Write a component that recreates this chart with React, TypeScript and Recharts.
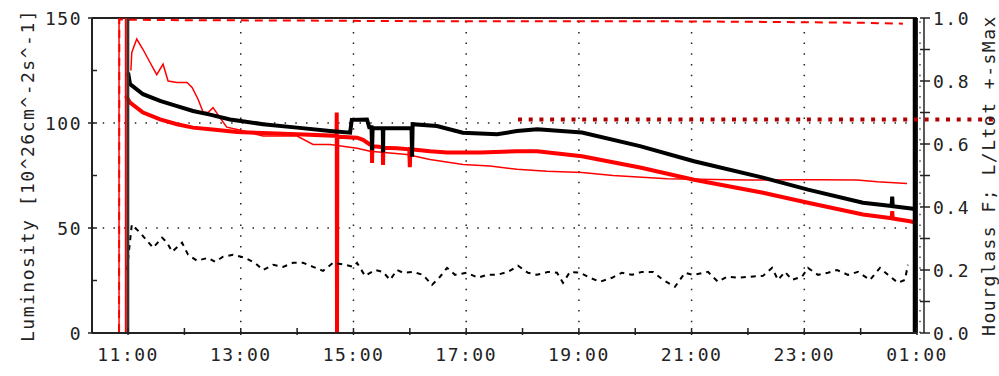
import React from 'react';
import { LineChart, Line, XAxis, YAxis, ReferenceLine } from 'recharts';

const CHART_W = 999;
const CHART_H = 376;
const FONT = '"DejaVu Sans Mono", monospace';
const INK = '#222';

// time in decimal hours, 25 = 01:00 next day
const hourTicks = [11, 12, 13, 14, 15, 16, 17, 18, 19, 20, 21, 22, 23, 24, 25];
const lumTicks = [0, 25, 50, 75, 100, 125, 150];
const fracTicks = [0, 0.1, 0.2, 0.3, 0.4, 0.5, 0.6, 0.7, 0.8, 0.9, 1.0];
const gridHours = [13, 15, 17, 19, 21, 23];
const gridLum = [50, 100];

// vertical markers (beam events)
const redMarkers = [10.84, 10.96];
const blackMarkers = [11.0, 24.96];

// total luminosity (black, thick)
const blackTime = [11.0, 11.035, 11.266, 11.568, 11.869, 12.153, 12.455, 12.81, 13.0, 13.395, 13.999, 14.584, 14.94, 14.97, 15.24, 15.28, 15.32, 15.33, 15.34, 15.52, 15.525, 15.53, 16.03, 16.04, 16.05, 16.48, 16.94, 17.55, 17.9, 18.26, 19.055, 20.084, 21.043, 22.267, 23.065, 24.041, 24.55, 24.56, 24.57, 24.93, 24.95];
const blackLum = [124, 118.5, 113.7, 110.5, 108, 105.7, 104, 101.7, 101, 99.4, 97.8, 96.2, 95.4, 101.5, 101.7, 98, 98, 87, 97.5, 97.5, 86, 97.5, 97.5, 84, 99.4, 98.6, 95.4, 94.6, 96.2, 97, 95.5, 89, 81.8, 74, 68.3, 62, 60.5, 65, 60.4, 59.2, 59];

// luminosity experiment A (red, thick)
const redTime = [10.96, 11.035, 11.266, 11.568, 11.869, 12.153, 12.455, 12.934, 13.395, 13.999, 14.7, 14.703, 14.708, 14.713, 15.063, 15.17, 15.29, 15.325, 15.33, 15.335, 15.52, 15.525, 15.53, 15.77, 15.99, 16.0, 16.01, 16.36, 16.66, 17.25, 17.9, 18.26, 19.055, 20.084, 21.043, 22.267, 23.065, 24.041, 24.55, 24.56, 24.57, 24.875, 24.99];
const redLum = [113, 109.7, 105, 101.7, 99.4, 97.8, 97, 95.7, 95.2, 94.6, 93.9, 105, 0, 93.5, 93, 92, 89.8, 89.8, 81, 89, 88.5, 80, 88.2, 88, 87.5, 79, 87.5, 86.5, 86, 86, 86.5, 86.6, 84.2, 78.8, 73, 66.8, 62, 56.4, 54.6, 58, 54.5, 53.2, 52.5];

// luminosity experiment B (red, thin)
const thinTime = [11.05, 11.066, 11.154, 11.266, 11.39, 11.509, 11.621, 11.71, 11.869, 12.047, 12.136, 12.242, 12.331, 12.419, 12.508, 12.579, 12.632, 12.75, 13.0, 13.395, 13.999, 14.283, 14.584, 15.063, 15.294, 15.95, 16.358, 16.944, 17.423, 17.9, 18.434, 19.055, 19.605, 20.563, 21.983, 22.799, 23.278, 23.935, 24.3, 24.822];
const thinLum = [125, 133.6, 140, 135, 128.8, 123, 128, 120, 119.3, 119.3, 116.9, 111.3, 105.2, 105, 107.3, 104.6, 102.5, 98, 96.5, 93.8, 93.8, 89.8, 89.8, 88, 86.6, 85, 82.6, 80.2, 79.5, 78, 77, 76.4, 75, 73.5, 72.8, 73, 73, 72.8, 72, 71.2];

// spread (black, dashed)
const sMaxTime = [10.98, 11.066, 11.213, 11.444, 11.603, 11.692, 11.781, 11.958, 12.065, 12.224, 12.419, 12.544, 12.686, 12.863, 13.076, 13.253, 13.395, 13.573, 13.75, 13.928, 14.105, 14.283, 14.46, 14.637, 14.85, 14.992, 15.063, 15.205, 15.383, 15.524, 15.649, 15.773, 15.879, 16.057, 16.234, 16.394, 16.536, 16.66, 16.802, 17.015, 17.21, 17.37, 17.547, 17.742, 17.92, 18.097, 18.257, 18.452, 18.612, 18.718, 18.842, 19.02, 19.197, 19.375, 19.588, 19.765, 19.942, 20.12, 20.315, 20.493, 20.705, 20.883, 21.025, 21.291, 21.469, 21.628, 21.823, 22.036, 22.267, 22.427, 22.533, 22.657, 22.781, 22.959, 23.065, 23.243, 23.42, 23.58, 23.775, 23.953, 24.166, 24.343, 24.485, 24.662, 24.786, 24.839];
const sMaxLum = [30, 51.6, 47.8, 40.6, 45.4, 43, 38.7, 43, 37.3, 34.4, 35.8, 33.9, 36.3, 37.3, 35.8, 33.4, 30, 32.5, 31.5, 33.4, 33.4, 31.5, 29.6, 33.4, 32.5, 31.5, 33.4, 27.2, 30, 29.1, 25.3, 30, 28.7, 29.1, 27.7, 22.9, 26.8, 31, 27.7, 28.7, 26.3, 27.7, 27.7, 29.1, 32, 28.7, 27.7, 29.1, 28.7, 23.9, 29.1, 28.7, 26.3, 24.4, 26.3, 28.7, 27.7, 29.1, 29.1, 25.3, 22, 28.7, 27.7, 29.1, 24.4, 26.8, 26.3, 26.8, 27.2, 31, 25.3, 29.1, 25.3, 26.8, 31, 27.7, 28.7, 30, 27.7, 29.1, 25.3, 31, 27.7, 23.9, 25.3, 32.5];

// hourglass factor (red, dashed, right axis)
const hgTime = [10.36, 10.84, 10.845, 12, 14, 16, 18, 20, 22, 24, 24.75];
const hgFrac = [0, 0, 0.995, 0.993, 0.992, 0.99, 0.99, 0.99, 0.988, 0.985, 0.982];

// L/Ltot level (dark red, dotted, right axis)
const ltotStart = 17.92;
const ltotLevel = 0.678;

const zip = (t: number[], v: number[]) => t.map((x, i) => ({ t: x, v: v[i] }));

const fmtHour = (h: number) => `${String(h % 24).padStart(2, '0')}:00`;

const textStyle = { fontFamily: FONT, fontSize: 18, letterSpacing: 1.5, fill: INK };

const HourTick = ({ x, y, payload }: any) => {
  const h = payload.value;
  return (
    <g>
      <line x1={x} x2={x} y1={y - 5} y2={y + 2} stroke={INK} strokeWidth={1.5} />
      {h % 2 === 1 && (
        <text x={x} y={y + 28} textAnchor="middle" {...textStyle}>{fmtHour(h)}</text>
      )}
    </g>
  );
};

const LumTick = ({ x, y, payload }: any) => {
  const v = payload.value;
  const major = v % 50 === 0;
  return (
    <g>
      <line x1={major ? x - 4 : x} x2={x + 5} y1={y} y2={y} stroke={INK} strokeWidth={1.5} />
      {major && (
        <text x={x - 10} y={y + 6.5} textAnchor="end" {...textStyle}>{v}</text>
      )}
    </g>
  );
};

const FracTick = ({ x, y, payload }: any) => {
  const v = payload.value;
  const ax = x + 7;
  const labelled = Math.round(v * 10) % 2 === 0;
  return (
    <g>
      <line x1={ax - 4} x2={ax + 6} y1={y} y2={y} stroke={INK} strokeWidth={1.5} />
      {labelled && (
        <text x={ax + 9} y={y + 6.5} textAnchor="start" {...textStyle}>{v.toFixed(1)}</text>
      )}
    </g>
  );
};

const RightFrame = (p: any) => (
  <g>
    <line x1={p.x1} x2={p.x2} y1={p.y1} y2={p.y2} stroke={INK} strokeWidth={2} />
    <line x1={p.x1 + 7} x2={p.x2 + 7} y1={p.y1} y2={p.y2} stroke={INK} strokeWidth={1.5} />
    <line x1={p.x1 + 3} x2={p.x2 + 3} y1={p.y1} y2={p.y2} stroke={INK} strokeWidth={1.2} strokeDasharray="1.5 9.2" />
  </g>
);

const LtotShape = (p: any) => (
  <line x1={p.x1} y1={p.y1} x2={CHART_W} y2={p.y2} stroke="#b00000" strokeWidth={4} strokeDasharray="4 6.7" />
);

const axisTitle = (text: string, dx: number) => (props: any) => {
  const vb = props.viewBox;
  const cx = vb.x + dx;
  const cy = vb.y + vb.height / 2;
  return (
    <text x={cx} y={cy} transform={`rotate(-90 ${cx} ${cy})`} textAnchor="middle" dominantBaseline="central" {...textStyle}>
      {text}
    </text>
  );
};

export default function App() {
  return (
    <div style={{ position: 'absolute', left: 0, top: 0, background: '#fff' }}>
      <LineChart width={CHART_W} height={CHART_H} margin={{ top: 18, right: 0, bottom: 0, left: 0 }}>
        <XAxis
          type="number"
          dataKey="t"
          domain={[10.36, 25]}
          ticks={hourTicks}
          interval={0}
          tickSize={0}
          tickMargin={0}
          tickLine={false}
          tick={<HourTick />}
          axisLine={{ stroke: INK, strokeWidth: 2 }}
          height={43}
          allowDecimals
        />
        <YAxis
          yAxisId="lum"
          domain={[0, 150]}
          ticks={lumTicks}
          interval={0}
          tickSize={0}
          tickMargin={0}
          tickLine={false}
          tick={<LumTick />}
          axisLine={{ stroke: INK, strokeWidth: 2 }}
          width={92}
          label={{ content: axisTitle('Luminosity [10^26cm^-2s^-1]', 27) }}
        />
        <YAxis
          yAxisId="frac"
          orientation="right"
          domain={[0, 1]}
          ticks={fracTicks}
          interval={0}
          tickSize={0}
          tickMargin={0}
          tickLine={false}
          tick={<FracTick />}
          axisLine={false}
          width={82}
          label={{ content: axisTitle('Hourglass F; L/Ltot +-sMax', 71) }}
        />

        {gridLum.map((v) => (
          <ReferenceLine key={`gy${v}`} yAxisId="lum" y={v} stroke={INK} strokeWidth={1.5} strokeDasharray="1.5 9.2" />
        ))}
        {gridHours.map((h) => (
          <ReferenceLine key={`gx${h}`} yAxisId="lum" x={h} stroke={INK} strokeWidth={1.5} strokeDasharray="1.5 9.2" />
        ))}
        <ReferenceLine yAxisId="lum" y={150} stroke={INK} strokeWidth={2} />
        <ReferenceLine yAxisId="lum" x={25} shape={RightFrame} />

        <Line yAxisId="lum" data={zip(thinTime, thinLum)} dataKey="v" type="linear" stroke="#ff0000" strokeWidth={1.5} dot={false} isAnimationActive={false} />
        <Line yAxisId="lum" data={zip(redTime, redLum)} dataKey="v" type="linear" stroke="#ff0000" strokeWidth={4} dot={false} isAnimationActive={false} />
        <Line yAxisId="lum" data={zip(blackTime, blackLum)} dataKey="v" type="linear" stroke="#000" strokeWidth={4} dot={false} isAnimationActive={false} />
        <Line yAxisId="lum" data={zip(sMaxTime, sMaxLum)} dataKey="v" type="linear" stroke="#000" strokeWidth={2} strokeDasharray="5 5" dot={false} isAnimationActive={false} />
        <Line yAxisId="frac" data={zip(hgTime, hgFrac)} dataKey="v" type="linear" stroke="#ff0000" strokeWidth={2} strokeDasharray="8 6" dot={false} isAnimationActive={false} />

        {redMarkers.map((t, i) => (
          <ReferenceLine key={`rm${t}`} yAxisId="lum" x={t} stroke="#ff0000" strokeWidth={i === 0 ? 1.5 : 2} />
        ))}
        {blackMarkers.map((t, i) => (
          <ReferenceLine key={`bm${t}`} yAxisId="lum" x={t} stroke={i === 0 ? '#333' : '#000'} strokeWidth={i === 0 ? 2.5 : 4} />
        ))}

        <ReferenceLine
          yAxisId="frac"
          segment={[{ x: ltotStart, y: ltotLevel }, { x: 25, y: ltotLevel }]}
          shape={LtotShape}
        />
      </LineChart>
    </div>
  );
}
